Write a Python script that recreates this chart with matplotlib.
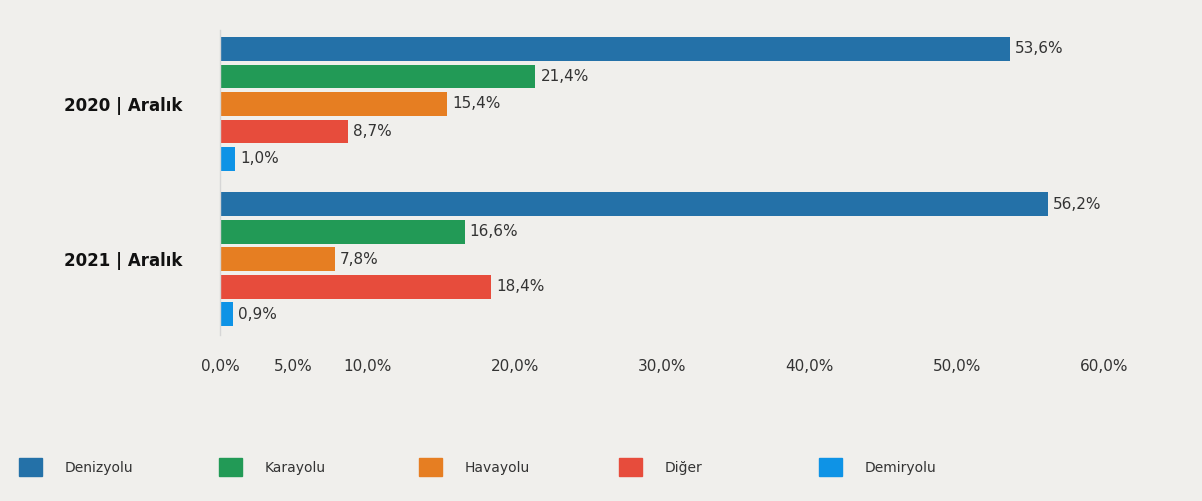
import matplotlib.pyplot as plt
from matplotlib.patches import Patch

# data
groups = ["2020 | Aralık", "2021 | Aralık"]
modes = ["Denizyolu", "Karayolu", "Havayolu", "Diğer", "Demiryolu"]
colors = ["#2471a8", "#229a56", "#e67e22", "#e74c3c", "#0e93e6"]
values_2020 = [53.6, 21.4, 15.4, 8.7, 1.0]
values_2021 = [56.2, 16.6, 7.8, 18.4, 0.9]
xticks = [0, 5, 10, 20, 30, 40, 50, 60]

bg = "#f0efec"
fig = plt.figure(figsize=(12.02, 5.01), dpi=100, facecolor=bg)
ax = fig.add_axes([220 / 1202, 1 - 335 / 501, (1104 - 220) / 1202, 305 / 501])
ax.set_facecolor(bg)

group_step = 5.64
for g, vals in enumerate([values_2020, values_2021]):
    for i, v in enumerate(vals):
        y = g * group_step + i
        ax.barh(y, v, height=0.87, color=colors[i])
        ax.text(v + 0.35, y, f"{v:.1f}%".replace(".", ","), va="center",
                ha="left", fontsize=11, color="#333333")

ax.set_xlim(0, 60)
ax.set_ylim(10.4, -0.69)
ax.set_xticks(xticks)
ax.set_xticklabels([f"{t:.1f}%".replace(".", ",") for t in xticks],
                   fontsize=11, color="#333333")
ax.tick_params(axis="x", length=0, pad=17)
ax.set_yticks([g * group_step + 2 for g in range(len(groups))])
ax.set_yticklabels(groups, fontsize=12, fontweight="bold", color="#111111")
ax.tick_params(axis="y", length=0, pad=27)

for s in ["top", "right", "bottom"]:
    ax.spines[s].set_visible(False)
ax.spines["left"].set_color("#d6d6d6")
ax.spines["left"].set_linewidth(1)

# legend, one entry per slot
for i, (m, c) in enumerate(zip(modes, colors)):
    fig.legend(handles=[Patch(color=c)], labels=[m], loc="center left",
               bbox_to_anchor=((13 + i * 200) / 1202, 1 - 467 / 501),
               frameon=False, handlelength=1.7, handleheight=1.6,
               handletextpad=1.6, borderaxespad=0,
               prop={"size": 10}, labelcolor="#333333")

fig.savefig("out.png", dpi=100, facecolor=bg)
